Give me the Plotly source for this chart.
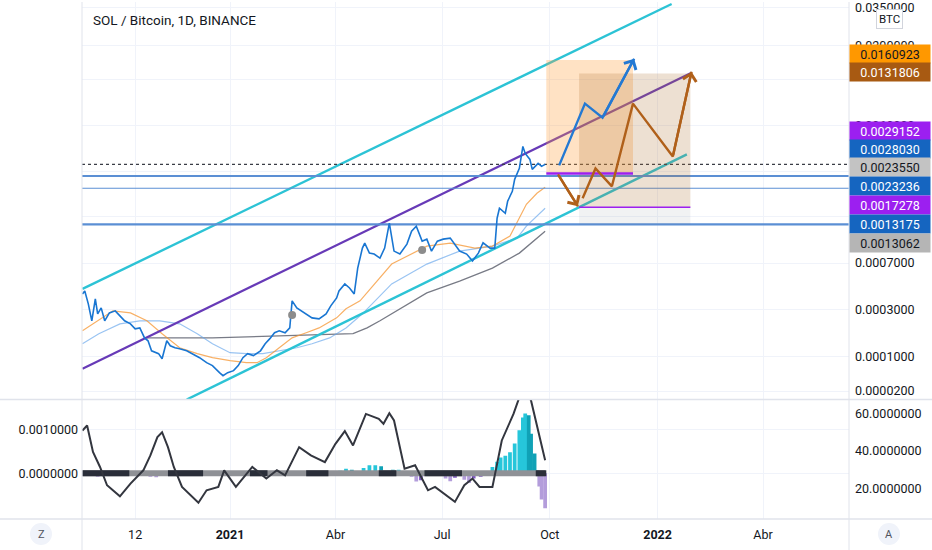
import numpy as np
import plotly.graph_objects as go

# ============================================================================
# DATA
# ============================================================================

LOG_OFFSET = 0.0001   # price scale is log(price + offset)

price_dates = [
    "2020-08-28", "2020-08-30", "2020-09-02", "2020-09-05", "2020-09-08", "2020-09-10",
    "2020-09-13", "2020-09-16", "2020-09-20", "2020-09-25", "2020-09-29", "2020-10-03",
    "2020-10-08", "2020-10-12", "2020-10-16", "2020-10-20", "2020-10-23", "2020-10-26",
    "2020-11-01", "2020-11-04", "2020-11-08", "2020-11-11", "2020-11-15", "2020-11-19",
    "2020-11-25", "2020-11-30", "2020-12-06", "2020-12-12", "2020-12-17", "2020-12-23",
    "2020-12-26", "2020-12-30", "2021-01-04", "2021-01-08", "2021-01-12", "2021-01-16",
    "2021-01-21", "2021-01-27", "2021-01-31", "2021-02-04", "2021-02-08", "2021-02-12",
    "2021-02-17", "2021-02-21", "2021-02-23", "2021-02-27", "2021-03-03", "2021-03-07",
    "2021-03-12", "2021-03-18", "2021-03-24", "2021-03-28", "2021-04-02", "2021-04-04",
    "2021-04-09", "2021-04-13", "2021-04-17", "2021-04-20", "2021-04-24", "2021-04-26",
    "2021-04-30", "2021-05-04", "2021-05-09", "2021-05-13", "2021-05-17", "2021-05-21",
    "2021-05-26", "2021-06-01", "2021-06-05", "2021-06-09", "2021-06-14", "2021-06-18",
    "2021-06-22", "2021-06-27", "2021-07-02", "2021-07-08", "2021-07-12", "2021-07-16",
    "2021-07-22", "2021-07-27", "2021-08-01", "2021-08-05", "2021-08-11", "2021-08-15",
    "2021-08-17", "2021-08-19", "2021-08-24", "2021-08-26", "2021-08-30", "2021-09-01",
    "2021-09-05", "2021-09-08", "2021-09-10", "2021-09-14", "2021-09-16", "2021-09-21",
    "2021-09-24", "2021-09-27",
]
price_close = [
    0.000406, 0.000429, 0.000337, 0.000240, 0.000370, 0.000277,
    0.000312, 0.000240, 0.000282, 0.000294, 0.000266, 0.000240,
    0.000225, 0.000202, 0.000206, 0.000164, 0.000153, 0.000118,
    0.000109, 0.0000940, 0.000153, 0.000135, 0.000128, 0.000125,
    0.000118, 0.000109, 0.0000969, 0.0000829, 0.0000750, 0.0000578,
    0.0000509, 0.0000578, 0.0000625, 0.0000750, 0.0000969, 0.000109,
    0.000103, 0.000118, 0.000142, 0.000161, 0.000185, 0.000193,
    0.000185, 0.000206, 0.000357, 0.000312, 0.000294, 0.000277,
    0.000255, 0.000250, 0.000277, 0.000324, 0.000377, 0.000429,
    0.000487, 0.000453, 0.000406, 0.000643, 0.000898, 0.000975,
    0.000827, 0.000814, 0.000761, 0.000898, 0.001344, 0.000855,
    0.000814, 0.000959, 0.001183, 0.001281, 0.001007, 0.001040,
    0.000855, 0.001007, 0.001040, 0.001057, 0.000959, 0.000855,
    0.000814, 0.000724, 0.000827, 0.000980, 0.000898, 0.000898,
    0.001454, 0.001702, 0.001573, 0.001898, 0.002215, 0.002664,
    0.003151, 0.004398, 0.003957, 0.003613, 0.003104, 0.003400,
    0.003249, 0.003349,
]

ma_fast_dates = [
    "2020-08-28", "2020-09-23", "2020-10-08", "2020-10-22", "2020-11-04", "2020-11-19",
    "2020-12-04", "2020-12-17", "2021-01-01", "2021-01-15", "2021-01-24", "2021-02-01",
    "2021-02-12", "2021-02-23", "2021-03-07", "2021-03-18", "2021-04-02", "2021-04-10",
    "2021-04-22", "2021-05-19", "2021-06-18", "2021-07-08", "2021-07-29", "2021-08-13",
    "2021-08-28", "2021-09-11", "2021-09-20", "2021-09-27",
]
ma_fast = [
    0.000193, 0.000294, 0.000282, 0.000240, 0.000181, 0.000128,
    0.000109, 0.0000969, 0.0000883, 0.0000829, 0.0000829, 0.0000969,
    0.000128, 0.000164, 0.000185, 0.000206, 0.000255, 0.000306,
    0.000357, 0.000688, 0.000928, 0.000975, 0.000898, 0.000928,
    0.001092, 0.001811, 0.002148, 0.002356,
]

ma_mid_dates = [
    "2020-08-28", "2020-09-11", "2020-09-29", "2020-10-16", "2020-11-02", "2020-11-19",
    "2020-12-04", "2020-12-17", "2021-01-01", "2021-01-15", "2021-01-29", "2021-02-12",
    "2021-02-27", "2021-03-12", "2021-03-27", "2021-04-10", "2021-04-24", "2021-05-19",
    "2021-06-18", "2021-07-16", "2021-08-13", "2021-09-03", "2021-09-11", "2021-09-27",
]
ma_mid = [
    0.000142, 0.000181, 0.000225, 0.000240, 0.000240, 0.000225,
    0.000181, 0.000142, 0.000112, 0.000109, 0.000109, 0.000118,
    0.000128, 0.000142, 0.000164, 0.000206, 0.000277, 0.000487,
    0.000688, 0.000855, 0.000928, 0.001057, 0.001281, 0.001702,
]

ma_slow_dates = [
    "2020-10-22", "2020-12-17", "2021-02-12", "2021-03-12", "2021-04-16", "2021-04-28",
    "2021-05-09", "2021-06-18", "2021-07-16", "2021-08-13", "2021-09-05", "2021-09-27",
]
ma_slow = [
    0.000164, 0.000164, 0.000172, 0.000176, 0.000181, 0.000206,
    0.000240, 0.000414, 0.000513, 0.000643, 0.000827, 0.001183,
]

dot_dates = ["2021-02-23", "2021-06-14"]
dot_price = [0.000271, 0.000869]

# drawings
channel_upper_dates = ["2020-08-28", "2022-01-13"]
channel_upper = [0.000445, 0.03704]
channel_lower_dates = ["2020-11-25", "2022-01-26"]
channel_lower = [0.0000059, 0.003898]
channel_mid_dates = ["2020-08-28", "2022-01-30"]
channel_mid = [0.0000674, 0.0133]

level_prices = [0.0028030, 0.0023236, 0.0013175]
level_widths = [2.0, 1.2, 2.2]

pos_start = ["2021-09-28", "2021-10-26"]
pos_end = ["2021-12-11", "2022-01-29"]
pos_entry = [0.0029152, 0.0017278]
pos_target = [0.0160923, 0.0131806]
pos_stop = 0.0013175

blue_path_dates = ["2021-10-09", "2021-10-31", "2021-11-15", "2021-12-12"]
blue_path = [0.003298, 0.008386, 0.006802, 0.01639]
brown_down_dates = ["2021-10-08", "2021-10-25"]
brown_down = [0.002876, 0.001755]
brown_up_dates = ["2021-10-29", "2021-11-09", "2021-11-23", "2021-12-11", "2022-01-14", "2022-01-30"]
brown_up = [0.001988, 0.003151, 0.002393, 0.008386, 0.003781, 0.01351]

# indicator pane
osc_dates = [
    "2020-08-28", "2020-09-01", "2020-09-06", "2020-09-12", "2020-09-18", "2020-09-29",
    "2020-10-08", "2020-10-19", "2020-10-25", "2020-10-31", "2020-11-04", "2020-11-09",
    "2020-11-14", "2020-11-21", "2020-12-05", "2020-12-12", "2020-12-22", "2020-12-27",
    "2021-01-06", "2021-01-20", "2021-02-01", "2021-02-10", "2021-02-17", "2021-03-01",
    "2021-03-11", "2021-03-23", "2021-04-01", "2021-04-09", "2021-04-16", "2021-04-27",
    "2021-05-08", "2021-05-12", "2021-05-17", "2021-05-21", "2021-05-30", "2021-06-08",
    "2021-06-19", "2021-06-25", "2021-07-12", "2021-07-20", "2021-07-27", "2021-08-02",
    "2021-08-13", "2021-08-21", "2021-08-31", "2021-09-05", "2021-09-11", "2021-09-15",
    "2021-09-27",
]
osc_vals = [
    50.9, 53.6, 39.4, 31.4, 21.6, 15.7,
    22.5, 29.6, 37.6, 47.4, 50.0, 42.0,
    31.4, 20.7, 12.2, 18.9, 20.7, 29.6,
    20.7, 31.4, 25.2, 29.6, 26.9, 42.0,
    37.6, 34.0, 43.8, 50.6, 42.9, 59.8,
    57.2, 54.5, 60.2, 56.3, 30.5, 32.3,
    18.9, 20.7, 12.7, 21.6, 25.2, 20.7,
    20.7, 45.6, 59.8, 68.7, 72.0, 66.9,
    35.0,
]

hist_dates = [
    "2020-09-05", "2020-09-10", "2020-09-15", "2020-10-20", "2020-10-25", "2020-10-30",
    "2020-11-04", "2020-11-25", "2021-01-25", "2021-04-05", "2021-04-10", "2021-04-15",
    "2021-04-25", "2021-04-30", "2021-05-05", "2021-05-10", "2021-05-20", "2021-05-25",
    "2021-06-05", "2021-06-09", "2021-06-13", "2021-06-27", "2021-07-04", "2021-07-08",
    "2021-07-12", "2021-07-20", "2021-07-24", "2021-07-28", "2021-08-03", "2021-08-09",
    "2021-08-13", "2021-08-17", "2021-08-20", "2021-08-24", "2021-08-28", "2021-09-01",
    "2021-09-05", "2021-09-08", "2021-09-10", "2021-09-13", "2021-09-15", "2021-09-18",
    "2021-09-20", "2021-09-22", "2021-09-24", "2021-09-27",
]
hist_vals = [
    -0.00004, -0.00008, -0.00006, -0.00005, -0.00008, -0.00009,
    -0.00006, -0.00003, 0.00003, 0.00006, 0.00010, 0.00008,
    0.00012, 0.00018, 0.00018, 0.00016, 0.00008, 0.00008,
    -0.00008, -0.00019, -0.00016, 0.00006, -0.00012, -0.00018,
    -0.00010, -0.00015, -0.00022, -0.00012, -0.00008, 0.00005,
    0.00014, 0.00026, 0.00036, 0.00040, 0.00048, 0.00068,
    0.00098, 0.00127, 0.00136, 0.00132, 0.00090, 0.00045,
    0.00007, -0.00030, -0.00060, -0.00080,
]

squeeze_start = ["2020-08-28", "2020-11-09", "2021-01-18", "2021-03-07", "2021-05-08", "2021-06-16", "2021-09-19"]
squeeze_end = ["2020-10-07", "2020-12-09", "2021-02-02", "2021-03-26", "2021-05-23", "2021-07-18", "2021-09-28"]

# axes
price_ticks = [0.035, 0.02, 0.012, 0.006, 0.003, 0.0015, 0.0007, 0.0003, 0.0001, 0.00002]
price_tick_shown = [True, True, False, True, False, False, True, True, True, True]
date_ticks = ["2020-10-12", "2021-01-01", "2021-04-01", "2021-07-01", "2021-10-01", "2022-01-01", "2022-04-01"]
date_labels = ["12", "<b>2021</b>", "Abr", "Jul", "Oct", "<b>2022</b>", "Abr"]

axis_label_text = ["0.0160923", "0.0131806", "0.0029152", "0.0028030", "0.0023550",
                   "0.0023236", "0.0017278", "0.0013175", "0.0013062"]

# ============================================================================
# THEME / GEOMETRY
# ============================================================================

W, H = 932, 550
FONT = "Roboto, 'DejaVu Sans', sans-serif"
TEXT = "#131722"
GRID = "#f0f3fa"
BORDER = "#e0e3eb"
X_RANGE = ["2020-08-27 15:00", "2022-06-13 10:00"]
X_DOM = [82 / W, 849 / W]
MAIN_DOM = [1 - 399 / H, 1]
OSC_DOM = [1 - 519 / H, 1 - 399 / H]

CYAN = "#2cc3d5"
PURPLE_LINE = "#673ab7"
ENTRY_PURPLE = "#9c1ff0"
LEVEL_BLUE = "#5b8fd4"
BLUE_ARROW = "#2479d3"
BROWN = "#b0601a"

label_bg = ["#ff9800", "#a85a12", ENTRY_PURPLE, "#1565c0", "#c3c3c3",
            "#1565c0", ENTRY_PURPLE, "#1565c0", "#b5b5b5"]
label_fg = ["#131722", "white", "white", "white", "#131722",
            "white", "white", "white", "#131722"]
label_y_px = [52, 70, 129, 148, 166, 185, 204, 223, 242]


def ys(values):
    return np.asarray(values, dtype=float) + LOG_OFFSET


def ylog(value):
    return float(np.log10(value + LOG_OFFSET))


def line(x, y, color, width, dash=None, **kw):
    return go.Scatter(x=x, y=y, mode="lines", hoverinfo="skip",
                      line=dict(color=color, width=width, dash=dash), **kw)


def rect(d0, d1, p0, p1, fill):
    return go.Scatter(x=[d0, d1, d1, d0, d0], y=ys([p0, p0, p1, p1, p0]),
                      mode="lines", fill="toself", fillcolor=fill,
                      line=dict(width=0), hoverinfo="skip")


fig = go.Figure()

# ---- main pane ----
fig.add_trace(line(ma_slow_dates, ys(ma_slow), "#787b86", 1.3))
fig.add_trace(line(ma_mid_dates, ys(ma_mid), "rgba(100,165,235,0.65)", 1.2))
fig.add_trace(line(ma_fast_dates, ys(ma_fast), "rgba(245,150,50,0.75)", 1.2))

fig.add_trace(line(channel_upper_dates, ys(channel_upper), CYAN, 2.4))
fig.add_trace(line(channel_lower_dates, ys(channel_lower), CYAN, 2.4))
fig.add_trace(line(channel_mid_dates, ys(channel_mid), PURPLE_LINE, 2.2))

for p, w in zip(level_prices, level_widths):
    fig.add_trace(line(X_RANGE, ys([p, p]), LEVEL_BLUE, w))

fig.add_trace(line(X_RANGE, ys([price_close[-1]] * 2), "#3a3d46", 1.3, dash="dot"))

fig.add_trace(line(price_dates, ys(price_close), "#1976d2", 1.6))
fig.add_trace(go.Scatter(x=dot_dates, y=ys(dot_price), mode="markers", hoverinfo="skip",
                         marker=dict(size=8, color="#8c8c8c")))

# long position tools
fig.add_trace(rect(pos_start[1], pos_end[1], pos_stop, pos_entry[1], "rgba(120,123,134,0.10)"))
fig.add_trace(rect(pos_start[0], pos_end[0], pos_entry[0], pos_target[0], "rgba(255,160,60,0.30)"))
fig.add_trace(rect(pos_start[1], pos_end[1], pos_entry[1], pos_target[1], "rgba(175,115,50,0.22)"))
fig.add_trace(line([pos_start[0], pos_end[0]], ys([pos_entry[0]] * 2), ENTRY_PURPLE, 2.5))
fig.add_trace(line([pos_start[1], pos_end[1]], ys([pos_entry[1]] * 2), ENTRY_PURPLE, 1.6))

for dates, prices, color in [(blue_path_dates, blue_path, BLUE_ARROW),
                             (brown_down_dates, brown_down, BROWN),
                             (brown_up_dates, brown_up, BROWN)]:
    fig.add_trace(line(dates, ys(prices), color, 2.4))
    fig.add_annotation(x=dates[-1], y=ylog(prices[-1]), ax=dates[-2], ay=ylog(prices[-2]),
                       xref="x", yref="y", axref="x", ayref="y", text="",
                       showarrow=True, arrowhead=4, arrowsize=1.1, arrowwidth=2.4,
                       arrowcolor=color)

# ---- indicator pane ----
colors = []
prev = 0.0
for v in hist_vals:
    if v >= 0:
        colors.append("#26c6da" if v >= prev else "#10a2b6")
    else:
        colors.append("#b39ddb" if v <= prev else "#7e57c2")
    prev = v
fig.add_trace(go.Bar(x=hist_dates, y=hist_vals, marker=dict(color=colors, line=dict(width=0)),
                     width=3.2 * 86400000, xaxis="x2", yaxis="y2", hoverinfo="skip"))
fig.add_trace(line([price_dates[0], price_dates[-1]], [0, 0], "#8f9196", 6,
                   xaxis="x2", yaxis="y2"))
for s, e in zip(squeeze_start, squeeze_end):
    fig.add_trace(line([s, e], [0, 0], "#2a2e39", 6, xaxis="x2", yaxis="y2"))
fig.add_trace(line(osc_dates, osc_vals, "#33363f", 2.0, xaxis="x2", yaxis="y3"))

# ---- right price-axis labels ----
for txt, bg, fg, ypx in zip(axis_label_text, label_bg, label_fg, label_y_px):
    fig.add_annotation(x=849 / W, y=1 - ypx / H, xref="paper", yref="paper",
                       xanchor="left", yanchor="middle", text=txt, showarrow=False,
                       bgcolor=bg, width=78, height=16, borderpad=1,
                       font=dict(color=fg, size=12.5))

fig.add_annotation(x=889 / W, y=1 - 17 / H, xref="paper", yref="paper", text="BTC",
                   xanchor="center", yanchor="middle",
                   showarrow=False, bgcolor="white", bordercolor="#d1d4dc", borderwidth=1,
                   borderpad=2, font=dict(size=11.5))

fig.add_annotation(x=91 / W, y=1 - 18 / H, xref="paper", yref="paper", xanchor="left",
                   yanchor="middle", text="SOL / Bitcoin, 1D, BINANCE", showarrow=False,
                   font=dict(size=13.5, color=TEXT))

# ---- frame, separators and corner buttons ----
shapes = [
    dict(type="line", xref="paper", yref="paper", x0=82 / W, x1=82 / W, y0=0, y1=1,
         line=dict(color=BORDER, width=1)),
    dict(type="line", xref="paper", yref="paper", x0=849 / W, x1=849 / W, y0=0, y1=1,
         line=dict(color=BORDER, width=1)),
    dict(type="line", xref="paper", yref="paper", x0=0, x1=1, y0=1 - 399 / H, y1=1 - 399 / H,
         line=dict(color=BORDER, width=1.5)),
    dict(type="line", xref="paper", yref="paper", x0=0, x1=1, y0=1 - 519 / H, y1=1 - 519 / H,
         line=dict(color=BORDER, width=1.5)),
]
for cx, label in [(41, "Z"), (889, "A")]:
    shapes.append(dict(type="circle", xref="paper", yref="paper",
                       x0=(cx - 11) / W, x1=(cx + 11) / W,
                       y0=1 - 545 / H, y1=1 - 523 / H,
                       fillcolor="#f0f3fa", line=dict(width=0), layer="below"))
    fig.add_annotation(x=cx / W, y=1 - 534 / H, xref="paper", yref="paper", text=label,
                       xanchor="center", yanchor="middle",
                       showarrow=False, font=dict(size=11, color="#50535e"))

fig.update_layout(
    width=W, height=H,
    margin=dict(l=0, r=0, t=0, b=0),
    paper_bgcolor="white", plot_bgcolor="white",
    showlegend=False,
    font=dict(family=FONT, size=12.5, color=TEXT),
    shapes=shapes,
    xaxis=dict(domain=X_DOM, range=X_RANGE, anchor="y", tickvals=date_ticks,
               showticklabels=False, showgrid=True, gridcolor=GRID, zeroline=False,
               ticks="", showline=False),
    yaxis=dict(domain=MAIN_DOM, anchor="x", type="log",
               range=[-3.97512, -1.41742], side="right",
               tickvals=list(ys(price_ticks)),
               ticktext=[f"{v:.7f}" if show else ""
                         for v, show in zip(price_ticks, price_tick_shown)],
               showgrid=True, gridcolor=GRID, zeroline=False, ticks="",
               ticklabelstandoff=5, ticklabeloverflow="allow", showline=False),
    xaxis2=dict(domain=X_DOM, range=X_RANGE, anchor="y2", tickvals=date_ticks,
                ticktext=date_labels, showgrid=True, gridcolor=GRID, zeroline=False,
                ticks="", ticklabelstandoff=6, showline=False),
    yaxis2=dict(domain=OSC_DOM, anchor="x2", range=[-0.001045, 0.00168], side="left",
                tickvals=[0, 0.001], ticktext=["0.0000000", "0.0010000"],
                showgrid=True, gridcolor=GRID, zeroline=False, ticks="",
                ticklabelstandoff=3, showline=False),
    yaxis3=dict(overlaying="y2", anchor="x2", side="right", range=[3.47, 67.5],
                tickvals=[20, 40, 60],
                ticktext=["20.0000000", "40.0000000", "60.0000000"],
                showgrid=False, zeroline=False, ticks="", ticklabelstandoff=5,
                showline=False),
)

fig.write_html("out.html", config={"displayModeBar": False},
               post_script="document.body.style.margin = '0px';")
